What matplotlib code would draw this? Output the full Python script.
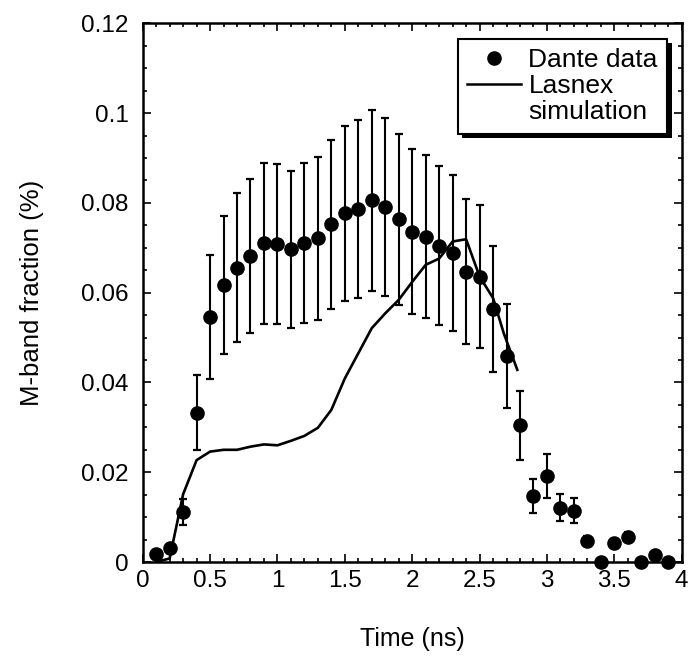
import matplotlib
matplotlib.use("Agg")
import matplotlib.pyplot as plt
from matplotlib.lines import Line2D
from matplotlib.patches import Rectangle

plt.rcParams['font.family'] = ['Liberation Sans', 'DejaVu Sans']

# Dante data
dante_t = [0.1, 0.2, 0.3, 0.4, 0.5, 0.6, 0.7, 0.8, 0.9, 1.0, 1.1, 1.2, 1.3, 1.4,
           1.5, 1.6, 1.7, 1.8, 1.9, 2.0, 2.1, 2.2, 2.3, 2.4, 2.5, 2.6, 2.7, 2.8,
           2.9, 3.0, 3.1, 3.2, 3.3, 3.4, 3.5, 3.6, 3.7, 3.8, 3.9]
dante_y = [0.0019, 0.0032, 0.0111, 0.0333, 0.0545, 0.0617, 0.0656, 0.0682, 0.0710,
           0.0708, 0.0697, 0.0710, 0.0721, 0.0752, 0.0777, 0.0786, 0.0806, 0.0790,
           0.0763, 0.0736, 0.0725, 0.0705, 0.0688, 0.0647, 0.0636, 0.0564, 0.0459,
           0.0305, 0.0147, 0.0192, 0.0121, 0.0114, 0.0047, 0.0, 0.0043, 0.0056,
           0.0, 0.0015, 0.0]
dante_err = [0.0, 0.0, 0.0029, 0.0084, 0.0138, 0.0154, 0.0165, 0.0171, 0.0179,
             0.0178, 0.0175, 0.0178, 0.0181, 0.0189, 0.0195, 0.0198, 0.0202, 0.0198,
             0.0191, 0.0184, 0.0182, 0.0177, 0.0173, 0.0162, 0.0160, 0.0141, 0.0115,
             0.0077, 0.0037, 0.0049, 0.0030, 0.0028, 0.0010, 0.0, 0.0008, 0.0010,
             0.0, 0.0, 0.0]

# Lasnex simulation
lasnex_t = [0.1, 0.2, 0.3, 0.4, 0.5, 0.6, 0.7, 0.8, 0.9, 1.0, 1.1, 1.2, 1.3, 1.4,
            1.5, 1.6, 1.7, 1.8, 1.9, 2.0, 2.1, 2.2, 2.3, 2.4, 2.5, 2.6, 2.68, 2.78]
lasnex_y = [0.0, 0.0008, 0.0151, 0.0227, 0.0246, 0.0250, 0.0250, 0.0257, 0.0262,
            0.0260, 0.0270, 0.0281, 0.0299, 0.0339, 0.0409, 0.0465, 0.0521, 0.0554,
            0.0584, 0.0624, 0.0662, 0.0676, 0.0714, 0.0719, 0.0636, 0.0588, 0.0509,
            0.0428]

xticks = [0, 0.5, 1, 1.5, 2, 2.5, 3, 3.5, 4]
xticklabels = ["0", "0.5", "1", "1.5", "2", "2.5", "3", "3.5", "4"]
yticks = [0, 0.02, 0.04, 0.06, 0.08, 0.1, 0.12]
yticklabels = ["0", "0.02", "0.04", "0.06", "0.08", "0.1", "0.12"]

fig = plt.figure(figsize=(6.9, 6.62), dpi=100)
ax = fig.add_axes([0.2068, 0.151, 0.7812, 0.8138])

ax.plot(lasnex_t, lasnex_y, color='black', lw=1.9, zorder=2)
ax.errorbar(dante_t, dante_y, yerr=dante_err, fmt='o', color='black',
            ms=9.5, elinewidth=1.5, capsize=2.6, capthick=1.6, zorder=3,
            clip_on=False)

ax.set_xlim(0, 4)
ax.set_ylim(0, 0.12)
ax.set_xticks(xticks)
ax.set_xticklabels(xticklabels)
ax.set_yticks(yticks)
ax.set_yticklabels(yticklabels)
ax.set_xticks([i * 0.1 for i in range(41)], minor=True)
ax.set_yticks([i * 0.005 for i in range(25)], minor=True)
ax.tick_params(which='both', direction='in', top=True, right=True, width=1.2)
ax.tick_params(which='major', length=6, labelsize=17.5)
ax.tick_params(axis='y', which='major', pad=10)
ax.tick_params(axis='x', which='major', pad=6)
ax.tick_params(which='minor', length=3)
for s in ax.spines.values():
    s.set_linewidth(1.8)

ax.set_xlabel("Time (ns)", fontsize=18, labelpad=25)
ax.set_ylabel("M-band fraction (%)", fontsize=18.5, labelpad=27)

handles = [Line2D([], [], marker='o', ls='none', color='black', ms=9.5),
           Line2D([], [], color='black', lw=1.8),
           Line2D([], [], ls='none')]
labels = ["Dante data", "Lasnex", "simulation"]
leg = ax.legend(handles, labels, loc='upper right', bbox_to_anchor=(0.9727, 0.9709),
                fontsize=19, frameon=True, fancybox=False, framealpha=1,
                edgecolor='black', labelspacing=0.08, handlelength=2.05,
                handletextpad=0.27, borderpad=0.35, borderaxespad=0.0)
leg.get_frame().set_linewidth(1.5)
leg.set_zorder(6)

# drop shadow behind legend box (pixel coordinates)
fig.canvas.draw()
bb = leg.get_window_extent()
off = 4.5
shadow = Rectangle((bb.x0 + off, bb.y0 - off), bb.width, bb.height,
                   transform=None, facecolor='black', edgecolor='none',
                   zorder=5, clip_on=False)
ax.add_patch(shadow)

fig.savefig("out.png", dpi=100)
